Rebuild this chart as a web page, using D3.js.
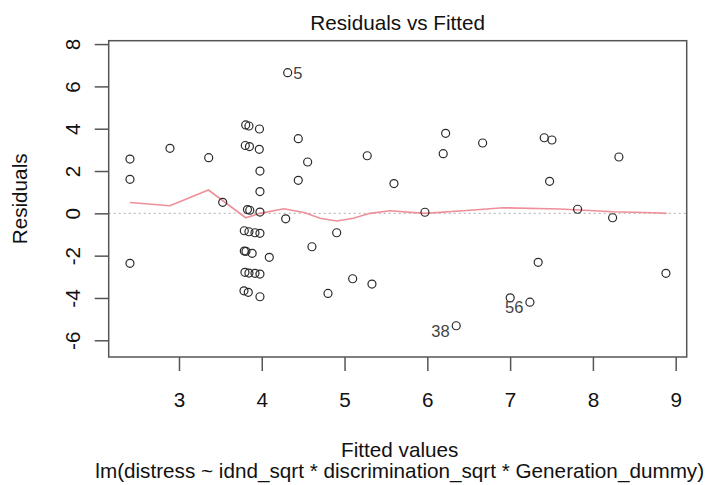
<!DOCTYPE html>
<html>
<head>
<meta charset="utf-8">
<script src="https://cdn.jsdelivr.net/npm/d3@7"></script>
<style>
  body { margin: 0; background: #fff; }
  text { font-family: "Liberation Sans", Arial, sans-serif; fill: #111; }
</style>
</head>
<body>
<div id="chart"></div>
<script>
// fitted values and residuals
var fittedVals = [4.313, 3.806, 3.845, 3.972, 4.441, 2.408, 2.891, 3.359, 3.801, 3.851,
  3.970, 4.554, 5.274, 2.408, 3.978, 4.441, 5.597, 3.528, 3.978, 3.827,
  3.855, 3.978, 4.289, 6.221, 6.192, 6.668, 7.412, 7.505, 8.314, 7.477,
  5.971, 7.815, 8.238, 2.408, 3.789, 3.845, 3.918, 3.978, 3.789, 3.809,
  3.884, 4.091, 4.606, 4.905, 3.797, 3.845, 3.918, 3.978, 3.785, 3.837,
  3.978, 4.800, 5.098, 5.331, 7.339, 8.882, 7.001, 7.239, 6.349];
var residVals = [6.648, 4.177, 4.128, 3.986, 3.527, 2.567, 3.073, 2.629, 3.206, 3.158,
  3.026, 2.426, 2.723, 1.608, 2.000, 1.560, 1.409, 0.520, 1.031, 0.180,
  0.147, 0.061, -0.260, 3.783, 2.818, 3.324, 3.574, 3.466, 2.662, 1.513,
  0.052, 0.194, -0.208, -2.364, -0.823, -0.870, -0.917, -0.946, -1.783, -1.797,
  -1.891, -2.080, -1.579, -0.917, -2.790, -2.823, -2.837, -2.870, -3.660, -3.735,
  -3.943, -3.783, -3.092, -3.343, -2.317, -2.837, -3.991, -4.198, -5.314];

// smoother (red line)
var smoothFit = [2.408, 2.891, 3.356, 3.806, 3.978, 4.268, 4.522, 4.703, 4.905, 5.105,
  5.307, 5.548, 5.971, 6.430, 6.917, 7.601, 8.245, 8.728, 8.890];
var smoothRes = [0.511, 0.359, 1.102, -0.208, 0.0, 0.213, 0.028, -0.236, -0.364, -0.236,
  0.0, 0.123, 0.0, 0.123, 0.265, 0.203, 0.076, 0.028, 0.0];

// labelled observations (index into the arrays above)
var idIndex = [0, 58, 57];
var idLabels = ["5", "38", "56"];

var xTicks = [3, 4, 5, 6, 7, 8, 9];
var yTicks = [-6, -4, -2, 0, 2, 4, 6, 8];

var width = 712, height = 485;
var box = {left: 108.7, right: 686.7, top: 40.7, bottom: 357};

var svg = d3.select("#chart").append("svg")
    .attr("width", width).attr("height", height);

var x = d3.scaleLinear().domain([2.151, 9.133]).range([box.left, box.right]);
var y = d3.scaleLinear().domain([-6.79, 8.16]).range([box.bottom, box.top]);

var fs = 20.7;
var plain = function(d) { return String(d); };  // hyphen minus, like R

// zero reference line
svg.append("line")
   .attr("x1", box.left).attr("x2", box.right)
   .attr("y1", y(0)).attr("y2", y(0))
   .style("stroke", "#bdbdbd").style("stroke-width", 1.2)
   .style("stroke-dasharray", "2,3");

// smoother
var line = d3.line()
    .x(function(d) { return x(d[0]); })
    .y(function(d) { return y(d[1]); });
svg.append("path")
   .datum(smoothFit.map(function(f, i) { return [f, smoothRes[i]]; }))
   .attr("d", line)
   .style("fill", "none")
   .style("stroke", "#ef8f9b")
   .style("stroke-width", 1.6);

// points
svg.selectAll("circle.pt")
   .data(fittedVals).enter()
   .append("circle")
   .attr("class", "pt")
   .attr("cx", function(d) { return x(d); })
   .attr("cy", function(d, i) { return y(residVals[i]); })
   .attr("r", 4)
   .style("fill", "none")
   .style("stroke", "#2a2a2a")
   .style("stroke-width", 1.2);

// point ids
var mid = (x.domain()[0] + x.domain()[1]) / 2;
svg.selectAll("text.pid")
   .data(idIndex).enter()
   .append("text")
   .attr("class", "pid")
   .attr("x", function(k) {
       var f = fittedVals[k];
       return f > mid ? x(f) - 6.5 : x(f) + 5.5;
   })
   .attr("y", function(k) {
       var f = fittedVals[k];
       return y(residVals[k]) + (f > mid ? 11 : 6);
   })
   .attr("text-anchor", function(k) { return fittedVals[k] > mid ? "end" : "start"; })
   .style("font-size", "16.5px")
   .style("fill", "#444")
   .text(function(k, i) { return idLabels[i]; });

// box
svg.append("rect")
   .attr("x", box.left).attr("y", box.top)
   .attr("width", box.right - box.left).attr("height", box.bottom - box.top)
   .style("fill", "none").style("stroke", "#555").style("stroke-width", 1.5);

// Axis X
var gx = svg.append("g")
   .attr("transform", "translate(0," + box.bottom + ")")
   .call(d3.axisBottom(x).tickValues(xTicks).tickSize(14).tickPadding(21).tickFormat(plain));
gx.select(".domain").remove();
gx.selectAll("line").style("stroke", "#555").style("stroke-width", 1.5);
gx.selectAll("text").style("font-size", fs + "px").style("fill", "#111")
  .attr("font-family", null);

// Axis Y
var gy = svg.append("g")
   .attr("transform", "translate(" + box.left + ",0)")
   .call(d3.axisLeft(y).tickValues(yTicks).tickSize(14).tickFormat(plain));
gy.select(".domain").remove();
gy.selectAll("line").style("stroke", "#555").style("stroke-width", 1.5);
gy.selectAll("text")
  .attr("x", null).attr("dy", null)
  .attr("text-anchor", "middle")
  .attr("transform", "translate(-28.5,0) rotate(-90)")
  .style("font-size", fs + "px").style("fill", "#111")
  .attr("font-family", null);

// Titles
var cx = (box.left + box.right) / 2;
svg.append("text")
   .attr("x", cx).attr("y", 29.5)
   .attr("text-anchor", "middle")
   .style("font-size", fs + "px")
   .text("Residuals vs Fitted");

svg.append("text")
   .attr("x", cx + 2).attr("y", 457)
   .attr("text-anchor", "middle")
   .style("font-size", fs + "px")
   .text("Fitted values");

svg.append("text")
   .attr("x", cx + 2).attr("y", 478)
   .attr("text-anchor", "middle")
   .style("font-size", fs + "px")
   .text("lm(distress ~ idnd_sqrt * discrimination_sqrt * Generation_dummy)");

svg.append("text")
   .attr("transform", "translate(27," + ((box.top + box.bottom) / 2) + ") rotate(-90)")
   .attr("text-anchor", "middle")
   .style("font-size", fs + "px")
   .text("Residuals");
</script>
</body>
</html>
